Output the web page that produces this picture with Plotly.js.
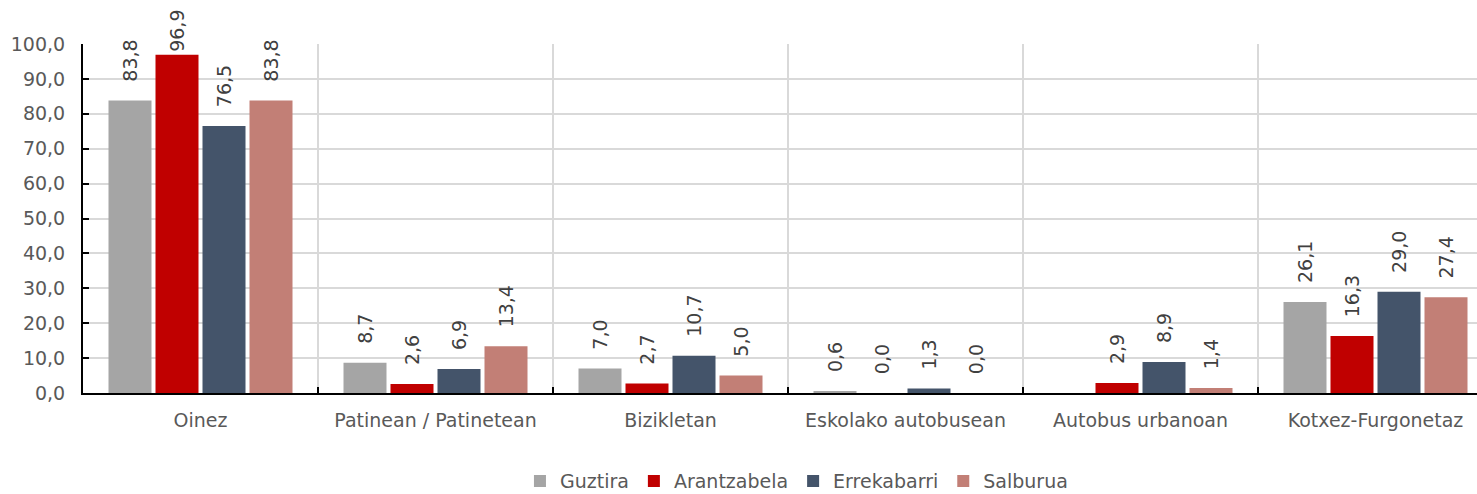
<!DOCTYPE html>
<html>
<head>
<meta charset="utf-8">
<script src="https://cdn.plot.ly/plotly-3.0.1.min.js"></script>
<style>
html,body{margin:0;padding:0;overflow:hidden;background:#fff;}
#chart{width:1510px;height:494px;}
</style>
</head>
<body>
<div id="chart"></div>
<script>
const categories = ["Oinez", "Patinean / Patinetean", "Bizikletan", "Eskolako autobusean", "Autobus urbanoan", "Kotxez-Furgonetaz"];
const seriesNames = ["Guztira", "Arantzabela", "Errekabarri", "Salburua"];
const guztira = [83.8, 8.7, 7.0, 0.6, null, 26.1];
const arantzabela = [96.9, 2.6, 2.7, 0.0, 2.9, 16.3];
const errekabarri = [76.5, 6.9, 10.7, 1.3, 8.9, 29.0];
const salburua = [83.8, 13.4, 5.0, 0.0, 1.4, 27.4];
const colors = ["#a5a5a5", "#c00000", "#44546a", "#c27f76"];
const yTicks = [0, 10, 20, 30, 40, 50, 60, 70, 80, 90, 100];

const FONT = "DejaVu Sans, Verdana, sans-serif";
const FS = 19;
const seriesData = [guztira, arantzabela, errekabarri, salburua];
const PAD = "\u00a0\u00a0\u2009";

const traces = seriesData.map((vals, i) => ({
  type: "bar",
  name: seriesNames[i],
  x: categories,
  y: vals,
  marker: {color: colors[i]},
  // labels near the top edge are kept closer to the bar so they stay inside the picture
  texttemplate: vals.map(v => (v !== null && v > 95 ? "" : PAD) + "%{y:.1f}"),
  textposition: "outside",
  textangle: -90,
  constraintext: "none",
  cliponaxis: false,
  textfont: {family: FONT, size: FS, color: "#404040"},
  hoverinfo: "none"
}));

const layout = {
  width: 1510,
  height: 494,
  margin: {l: 83, r: 17, t: 44, b: 101},
  paper_bgcolor: "#ffffff",
  plot_bgcolor: "#ffffff",
  separators: ",.",
  barmode: "group",
  bargap: 0.2,
  bargroupgap: 0.085,
  font: {family: FONT, size: FS, color: "#595959"},
  showlegend: true,
  legend: {
    orientation: "h",
    xref: "paper",
    x: 0.506, xanchor: "center",
    yref: "container",
    y: 0.026, yanchor: "middle",
    font: {family: FONT, size: FS, color: "#595959"},
    itemwidth: 30,
    traceorder: "normal"
  },
  xaxis: {
    type: "category",
    automargin: false,
    tickson: "boundaries",
    showgrid: true,
    gridcolor: "#d9d9d9",
    gridwidth: 2,
    showline: true,
    linecolor: "#000000",
    linewidth: 2,
    ticks: "inside",
    ticklen: 6,
    tickcolor: "#000000",
    tickwidth: 2,
    ticklabelstandoff: 9,
    tickfont: {family: FONT, size: FS, color: "#595959"},
    fixedrange: true
  },
  yaxis: {
    automargin: false,
    range: [0, 100],
    tickvals: yTicks,
    tickformat: ".1f",
    showgrid: true,
    gridcolor: "#d9d9d9",
    gridwidth: 2,
    zeroline: false,
    showline: true,
    linecolor: "#000000",
    linewidth: 2,
    ticks: "inside",
    ticklen: 6,
    tickcolor: "#000000",
    tickwidth: 2,
    ticklabelstandoff: 12,
    tickfont: {family: FONT, size: FS, color: "#595959"},
    fixedrange: true
  }
};

Plotly.newPlot("chart", traces, layout, {staticPlot: true, displayModeBar: false});
</script>
</body>
</html>
